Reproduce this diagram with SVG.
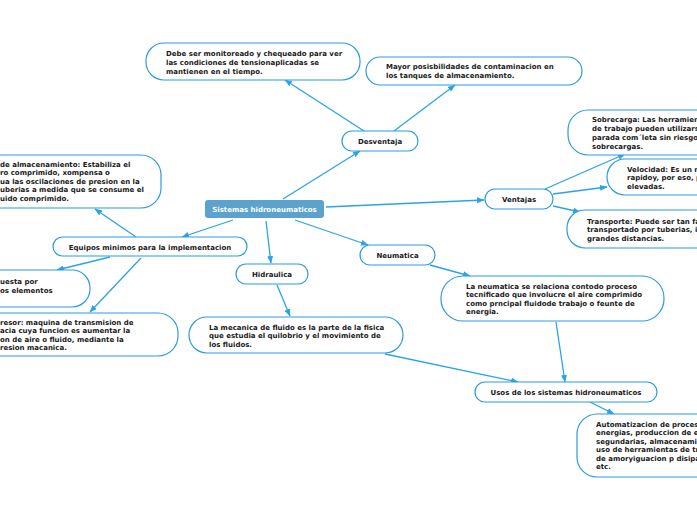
<svg xmlns="http://www.w3.org/2000/svg" width="697" height="520" viewBox="0 0 697 520">
<style>
.n{fill:#fff;stroke:#2b9be0;stroke-width:1.2}
.t{font-family:"DejaVu Sans",Verdana,sans-serif;font-weight:bold;font-size:7px;fill:#1a1a1a}
.c{text-anchor:middle}
.w{fill:#fff}
.e{stroke:#2ba3e8;stroke-width:1.3;fill:none;marker-end:url(#a)}
</style>
<defs>
<marker id="a" markerUnits="userSpaceOnUse" markerWidth="8" markerHeight="6" refX="7" refY="3" orient="auto">
<path d="M0,0 L7.5,3 L0,6 z" fill="#2ba3e8"/>
</marker>
</defs>
<rect width="697" height="520" fill="#fff"/>
<g id="connectors">
<line class="e" x1="283" y1="199" x2="360" y2="151"/>
<line class="e" x1="364" y1="131" x2="285" y2="80"/>
<line class="e" x1="394" y1="131" x2="455" y2="85"/>
<line class="e" x1="326" y1="207" x2="484" y2="200"/>
<line class="e" x1="545" y1="189" x2="625" y2="154"/>
<line class="e" x1="553" y1="194" x2="607" y2="187"/>
<line class="e" x1="553" y1="206" x2="580" y2="212"/>
<line class="e" x1="295" y1="220" x2="368" y2="245"/>
<line class="e" x1="430" y1="265" x2="470" y2="276"/>
<line class="e" x1="556" y1="322" x2="565" y2="382"/>
<line class="e" x1="385" y1="354" x2="518" y2="382"/>
<line class="e" x1="590" y1="402" x2="614" y2="414"/>
<line class="e" x1="266" y1="221" x2="271" y2="263"/>
<line class="e" x1="277" y1="285" x2="290" y2="316"/>
<line class="e" x1="233" y1="220" x2="182" y2="237"/>
<line class="e" x1="136" y1="237" x2="95" y2="209"/>
<line class="e" x1="110" y1="257" x2="57" y2="270"/>
<line class="e" x1="141" y1="258" x2="90" y2="312"/>
</g>
<g id="center">
<rect x="205" y="200" width="119" height="18" rx="3" fill="#5ba3cc"/>
<text class="t c w" x="264.5" y="211.5">Sistemas hidroneumaticos</text>
</g>
<g id="desventaja">
<rect class="n" x="342" y="131" width="76" height="20" rx="10"/>
<text class="t c" x="380" y="143.5">Desventaja</text>
</g>
<g id="debe">
<rect class="n" x="146" y="43" width="214" height="37" rx="18"/>
<text class="t" x="166" y="55.5">Debe ser monitoreado y chequeado para ver</text>
<text class="t" x="166" y="64.5">las condiciones de tensionaplicadas se</text>
<text class="t" x="166" y="73.5">mantienen en el tiempo.</text>
</g>
<g id="mayor">
<rect class="n" x="366" y="57" width="216" height="28" rx="14"/>
<text class="t" x="386" y="68.5">Mayor posisbilidades de contaminacion en</text>
<text class="t" x="386" y="77.5">los tanques de almacenamiento.</text>
</g>
<g id="ventajas">
<rect class="n" x="485" y="189" width="68" height="20" rx="10"/>
<text class="t c" x="519" y="201.5">Ventajas</text>
</g>
<g id="sobrecarga">
<rect class="n" x="568" y="110" width="150" height="45" rx="20"/>
<text class="t" x="592" y="121.5">Sobrecarga: Las herramien</text>
<text class="t" x="592" y="130.5">de trabajo pueden utilizars</text>
<text class="t" x="592" y="139.5">parada com´leta sin riesgo</text>
<text class="t" x="592" y="148.5">sobrecargas.</text>
</g>
<g id="velocidad">
<rect class="n" x="607" y="159" width="110" height="36" rx="18"/>
<text class="t" x="627" y="171.5">Velocidad: Es un m</text>
<text class="t" x="627" y="180">rapidoy, por eso, p</text>
<text class="t" x="627" y="188.5">elevadas.</text>
</g>
<g id="transporte">
<rect class="n" x="567" y="210" width="150" height="38" rx="18"/>
<text class="t" x="587" y="223.5">Transporte: Puede ser tan fa</text>
<text class="t" x="587" y="232">transportado por tuberias, in</text>
<text class="t" x="587" y="240.5">grandes distancias.</text>
</g>
<g id="neumatica">
<rect class="n" x="360" y="245" width="75" height="20" rx="10"/>
<text class="t c" x="397.5" y="257.5">Neumatica</text>
</g>
<g id="la-neumatica">
<rect class="n" x="441" y="276" width="223" height="45" rx="22"/>
<text class="t" x="466" y="288.5">La neumatica se  relaciona contodo proceso</text>
<text class="t" x="466" y="297">tecnificado que involucre el aire comprimido</text>
<text class="t" x="466" y="305.5">como prncipal fluidode trabajo o feunte de</text>
<text class="t" x="466" y="314">energia.</text>
</g>
<g id="usos">
<rect class="n" x="475" y="382" width="182" height="20" rx="10"/>
<text class="t c" x="566" y="394.5">Usos de los sistemas hidroneumaticos</text>
</g>
<g id="automatizacion">
<rect class="n" x="577" y="414" width="140" height="63" rx="20"/>
<text class="t" x="596" y="426.5">Automatizacion de proces</text>
<text class="t" x="596" y="435">energias, produccion de e</text>
<text class="t" x="596" y="443.5">segundarias, almacenami</text>
<text class="t" x="596" y="452">uso de herramientas de tr</text>
<text class="t" x="596" y="460.5">de amoryiguacion p disipa</text>
<text class="t" x="596" y="469">etc.</text>
</g>
<g id="hidraulica">
<rect class="n" x="236" y="264" width="72" height="20" rx="10"/>
<text class="t c" x="272" y="276.5">Hidraulica</text>
</g>
<g id="la-mecanica">
<rect class="n" x="189" y="317" width="214" height="36" rx="18"/>
<text class="t" x="209" y="329.5">La mecanica de fluido es la parte de la fisica</text>
<text class="t" x="209" y="338">que estudia el quilobrio y el movimiento de</text>
<text class="t" x="209" y="346.5">los fluidos.</text>
</g>
<g id="equipos">
<rect class="n" x="53" y="237" width="194" height="19" rx="9.5"/>
<text class="t c" x="150" y="249.5">Equipos minimos para la implementacion</text>
</g>
<g id="tanque">
<rect class="n" x="-30" y="155" width="191" height="53" rx="20"/>
<text class="t" x="0" y="166.5">de almacenamiento: Estabiliza el</text>
<text class="t" x="0" y="175">ro comprimido, xompensa o</text>
<text class="t" x="0" y="183.5">ua las oscilaciones de presion en la</text>
<text class="t" x="0" y="192">uberias a medida que se consume el</text>
<text class="t" x="0" y="200.5">uido comprimido.</text>
</g>
<g id="compuesta">
<rect class="n" x="-30" y="270" width="120" height="37" rx="18"/>
<text class="t" x="0" y="283.5">uesta por</text>
<text class="t" x="0" y="292.5">os elementos</text>
</g>
<g id="compresor">
<rect class="n" x="-30" y="313" width="208" height="43" rx="20"/>
<text class="t" x="0" y="324.5">resor: maquina de transmision de</text>
<text class="t" x="0" y="333">acia cuya funcion es aumentar la</text>
<text class="t" x="0" y="341.5">on de aire o fluido, mediante la</text>
<text class="t" x="0" y="350">resion macanica.</text>
</g>
</svg>
